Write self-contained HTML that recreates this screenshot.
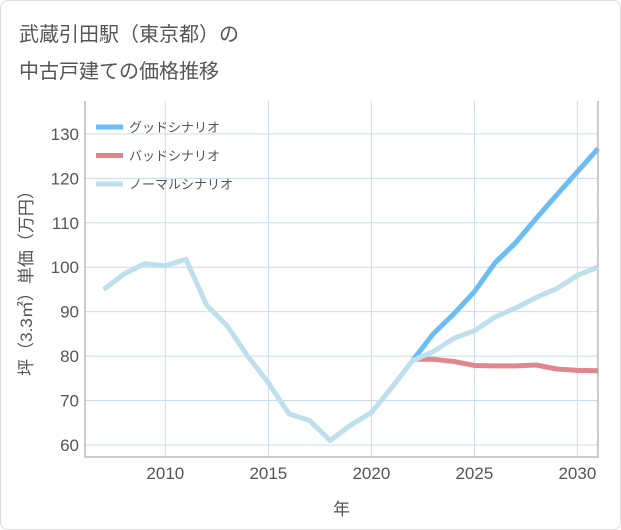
<!DOCTYPE html>
<html><head><meta charset="utf-8"><style>
body{margin:0;background:#fff;font-family:"Liberation Sans","Noto Sans CJK JP",sans-serif}
#wrap{position:relative;width:619px;height:528px;border:1px solid #ddd;border-radius:8px;overflow:hidden}
</style></head><body>
<div id="wrap">
<svg id="c" width="619" height="528">
<text x="18" y="40" font-size="20" fill="#555">武蔵引田駅（東京都）の</text>
<text x="18" y="77" font-size="20" fill="#555">中古戸建ての価格推移</text>
</svg>
</div>
<script>
const years=[2007,2008,2009,2010,2011,2012,2013,2014,2015,2016,2017,2018,2019,2020,2021,2022,2023,2024,2025,2026,2027,2028,2029,2030,2031];
const normal=[95,98.5,100.8,100.3,101.8,91.5,86.8,80,74,67,65.5,61,64.5,67.3,73,79,81,84,85.7,88.8,90.8,93.2,95.2,98.2,100];
const fYears=[2022,2023,2024,2025,2026,2027,2028,2029,2030,2031];
const good=[79,85,89.5,94.5,101,105.5,111,116.3,121.5,126.7];
const bad=[79.3,79.3,78.8,77.9,77.8,77.8,78,77.1,76.8,76.7];
const yTicks=[60,70,80,90,100,110,120,130];
const xTicks=[2010,2015,2020,2025,2030];
const legendLabels=["グッドシナリオ","バッドシナリオ","ノーマルシナリオ"];
const L=84,R=597,T=100,B=456;
const X=v=>L+(v-2006.1)*(R-L)/(2031-2006.1);
const Y=v=>B-(v-57.3)*(B-T)/(137.4-57.3);
const svg=document.getElementById('c');const NS="http://www.w3.org/2000/svg";
function mk(t,a,p){const e=document.createElementNS(NS,t);for(const k in a)e.setAttribute(k,a[k]);(p||svg).appendChild(e);return e;}
yTicks.forEach(v=>{const l=mk('line',{x1:L,x2:R,y1:Y(v),y2:Y(v),stroke:'#c9dcea','stroke-width':1});

const t=mk('text',{x:L-6,y:Y(v)+6,'text-anchor':'end','font-size':17,fill:'#555'});t.textContent=v;
});
xTicks.forEach(v=>{const l=mk('line',{x1:X(v),x2:X(v),y1:T,y2:B,stroke:'#c9dcea','stroke-width':1});

const t=mk('text',{x:X(v),y:B+22,'text-anchor':'middle','font-size':17,fill:'#555'});t.textContent=v;
});
const fr=mk('path',{d:`M${L} ${T}V${B}H${R}V${T}`,fill:'none',stroke:'#999','stroke-width':1});

function line(xs,ys,col,name){const p=mk('polyline',{points:xs.map((x,i)=>X(x)+','+Y(ys[i])).join(' '),fill:'none',stroke:col,'stroke-width':5,'stroke-linejoin':'round'});
}
line(fYears,bad,'#e0868e','bad-scenario-line');
line(fYears,good,'#6cbdf5','good-scenario-line');
line(years,normal,'#bde0ec','normal-scenario-line');
const cols=['#6cbdf5','#e0868e','#bde0ec'];
legendLabels.forEach((s,i)=>{const y=126+i*28.5;
const l=mk('line',{x1:95,x2:122,y1:y,y2:y,stroke:cols[i],'stroke-width':5});

const t=mk('text',{x:128,y:y+5,'font-size':13,fill:'#555'});t.textContent=s;
});
const xt=mk('text',{x:(L+R)/2,y:514,'text-anchor':'middle','font-size':17,fill:'#555'});xt.textContent='年';

const yt=mk('text',{x:0,y:0,'text-anchor':'middle','font-size':17,fill:'#555',transform:`translate(31 ${(T+B)/2}) rotate(-90)`});yt.textContent='坪（3.3㎡）単価（万円）';

</script>
</body></html>
